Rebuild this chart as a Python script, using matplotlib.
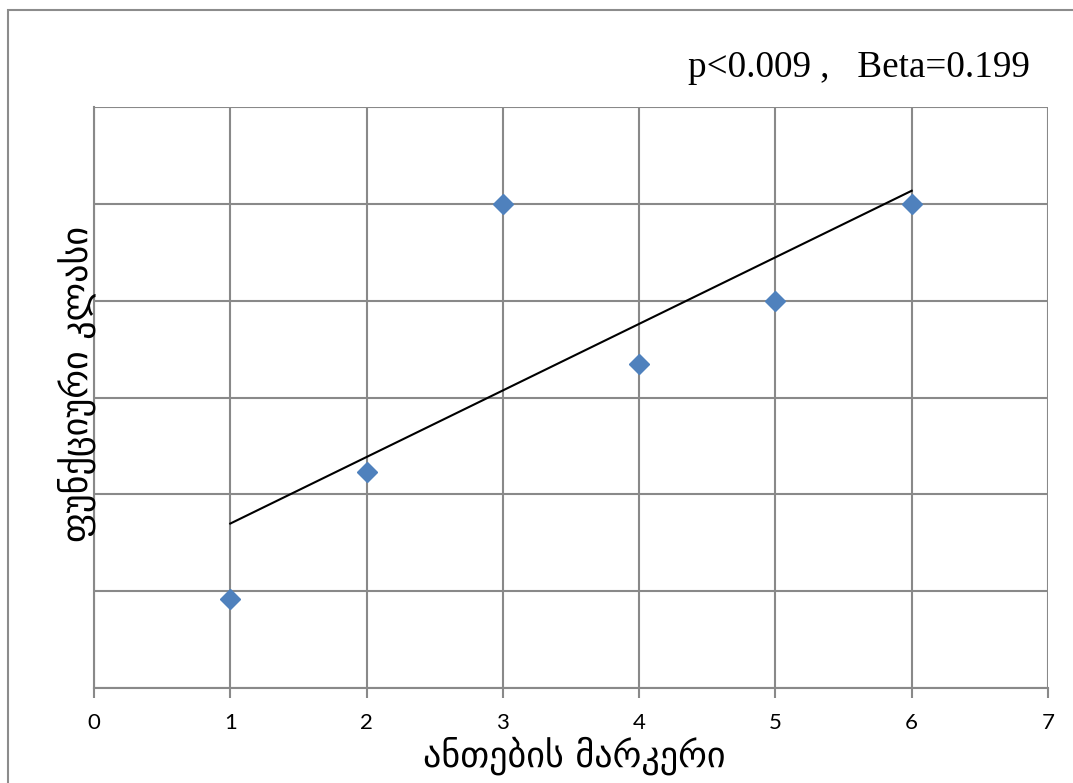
import numpy as np
import matplotlib.pyplot as plt
from matplotlib.patches import Rectangle

# values
marker_x = [1, 2, 3, 4, 5, 6]
marker_y = [0.92, 2.23, 5.0, 3.35, 4.0, 5.0]
x_ticks = [0, 1, 2, 3, 4, 5, 6, 7]
y_grid = [0, 1, 2, 3, 4, 5, 6]
x_label = "ანთების მარკერი"
y_label = "ფუნქციური კლასი"
stats_text = "p<0.009 ,   Beta=0.199"

grid_col = "#898989"
W, H = 1073, 783

fig = plt.figure(figsize=(10.73, 7.83), dpi=100)
ax = fig.add_axes([94 / W, 1 - 688 / H, (1048 - 94) / W, (688 - 107) / H])

# outer frame of the chart area
fig.patches.append(Rectangle((8 / W, -0.1), 1.2, 1 - 10 / H + 0.1,
                             transform=fig.transFigure, fill=False,
                             edgecolor="#8c8c8c", linewidth=1.5))

ax.set_xlim(0, 7)
ax.set_ylim(0, 6)
ax.set_xticks(x_ticks)
ax.set_yticks(y_grid)
ax.set_yticklabels([])
ax.grid(True, color=grid_col, linewidth=1.5)
ax.set_axisbelow(True)
for side in ["top", "right"]:
    ax.spines[side].set_visible(False)
for side in ["left", "bottom"]:
    ax.spines[side].set_color(grid_col)
    ax.spines[side].set_linewidth(1.5)
ax.tick_params(axis="x", length=7, width=1.5, color=grid_col, pad=11,
               labelsize=16)
ax.tick_params(axis="y", length=0)
for lab in ax.get_xticklabels():
    lab.set_fontfamily("Lato")

# linear trend line
slope, icpt = np.polyfit(marker_x, marker_y, 1)
xs = np.array([marker_x[0], marker_x[-1]])
ax.plot(xs, slope * xs + icpt, color="black", linewidth=1.5, zorder=3)

ax.plot(marker_x, marker_y, linestyle="none", marker="D", markersize=10,
        color="#4F81BD", zorder=4)

fig.text(574 / W, 1 - 767 / H, x_label, ha="center", va="baseline",
         fontsize=26, fontfamily="DejaVu Sans")
fig.text(77 / W, 1 - 384 / H, y_label, ha="center", va="center",
         rotation=90, fontsize=26, fontfamily="DejaVu Sans")

fig.text(1030 / W, 1 - 77 / H, stats_text, ha="right", va="baseline",
         fontsize=26.7, fontfamily="Liberation Serif")

plt.savefig("out.png", dpi=100)
plt.close()
